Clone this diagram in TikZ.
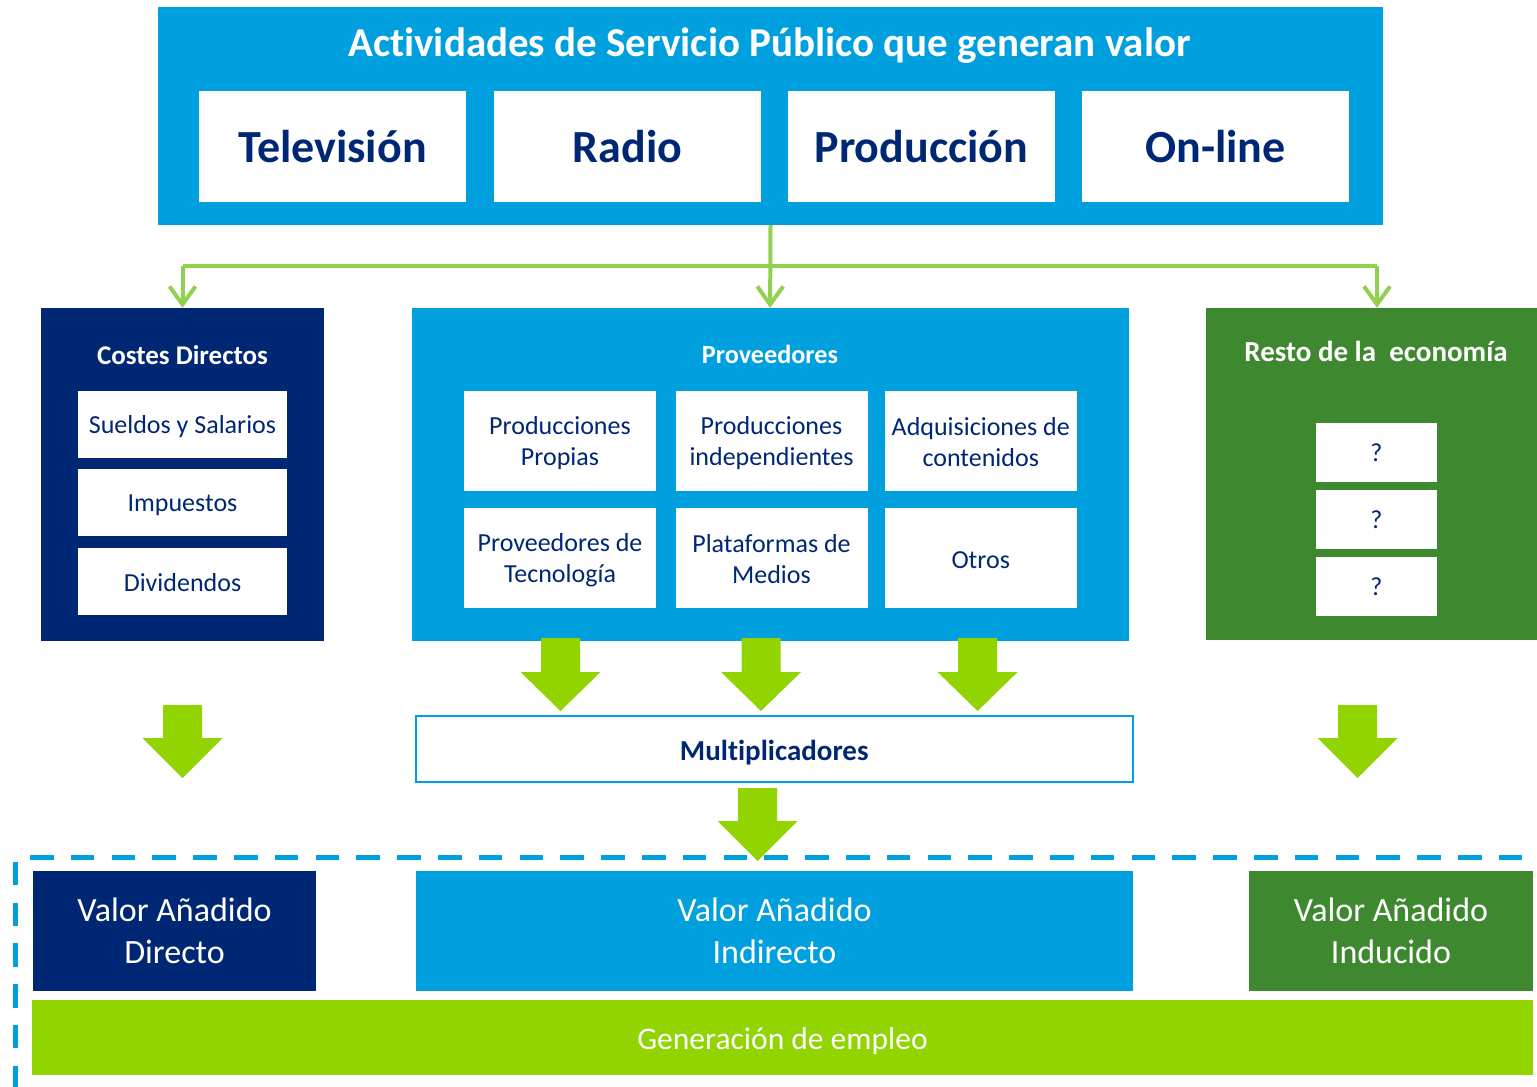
\documentclass[tikz,border=0pt]{standalone}
\usepackage{fontspec}
\setmainfont[Ligatures=NoCommon]{Carlito}
\usetikzlibrary{arrows.meta}
\definecolor{cblue}{RGB}{0,160,223}
\definecolor{cnavy}{RGB}{0,39,116}
\definecolor{cgreen}{RGB}{62,137,48}
\definecolor{clime}{RGB}{146,212,0}
\definecolor{clinegreen}{RGB}{146,208,80}
\newcommand\fsz[2]{\fontsize{#1pt}{#2pt}\selectfont}
\newcommand\blockarr[4]{%
  \fill[clime] (#1-19.5,#2) -- (#1+19.5,#2) -- (#1+19.5,#3) -- (#1+40,#3)
    -- (#1,#4) -- (#1-40,#3) -- (#1-19.5,#3) -- cycle;}
% name, x1, y1, x2, y2, box style, text style, text, text shift
\newcommand\mybox[9]{%
  \node[inner sep=0pt, #6, minimum width={#4pt-#2pt}, minimum height={#5pt-#3pt}]
    (#1) at ({(#2+#4)/2},{(#3+#5)/2}) {};
  \node[inner sep=0pt, align=center, #7] (#1-t) at ([yshift=#9]#1.center) {#8};}
\begin{document}
\begin{tikzpicture}[x=1pt,y=-1pt,
  wbox/.style={fill=white},
  toptxt/.style={text=cnavy, font=\fsz{46}{55}\bfseries},
  midtxt/.style={text=cnavy, font=\fsz{26}{31}},
  headtxt/.style={anchor=base, text=white},
  bottxt/.style={text=white, font=\fsz{34}{41.5}},
  gline/.style={draw=clinegreen, line width=4pt,
    -{Straight Barb[length=18pt,width=26pt]}},
  dashline/.style={draw=cblue, line width=4.7pt, dash pattern=on 23.5pt off 17.3pt}]
\useasboundingbox (0,0) rectangle (1537,1087);

% ---- top panel
\mybox{top}{158}{7}{1383}{225}{fill=cblue}{}{}{0pt}
\node[headtxt, font=\fsz{41}{49}\bfseries] (title) at (769.5,56)
  {Actividades de Servicio Público que generan valor};
\mybox{tv}{199}{91}{466}{202}{wbox}{toptxt}{Televisión}{0pt}
\mybox{radio}{494}{91}{761}{202}{wbox}{toptxt}{Radio}{0pt}
\mybox{prod}{788}{91}{1055}{202}{wbox}{toptxt}{Producción}{0pt}
\mybox{online}{1082}{91}{1349}{202}{wbox}{toptxt}{On-line}{0pt}

% ---- Costes Directos
\mybox{costes}{41}{308}{324}{641}{fill=cnavy}{}{}{0pt}
\node[headtxt, font=\fsz{27}{33}\bfseries] (costest) at (182.5,364) {Costes Directos};
\mybox{sueldos}{78}{391}{287}{458}{wbox}{midtxt}{Sueldos y Salarios}{-2.5pt}
\mybox{impuestos}{78}{469}{287}{536}{wbox}{midtxt}{Impuestos}{-3pt}
\mybox{dividendos}{78}{548}{287}{615}{wbox}{midtxt}{Dividendos}{-1.5pt}

% ---- Proveedores
\mybox{prov}{411.5}{308}{1128.7}{641}{fill=cblue}{}{}{0pt}
\node[headtxt, font=\fsz{26.2}{31}\bfseries] (provt) at (770,363) {Proveedores};
\mybox{p1}{464}{391}{656}{491}{wbox}{midtxt}{Producciones\\Propias}{-2.5pt}
\mybox{p2}{675.5}{391}{867.5}{491}{wbox}{midtxt}{Producciones\\independientes}{-2.5pt}
\mybox{p3}{885}{391}{1076.5}{491}{wbox}{midtxt}{Adquisiciones de\\contenidos}{-1.5pt}
\mybox{p4}{464}{508}{656}{608}{wbox}{midtxt}{Proveedores de\\Tecnología}{-2pt}
\mybox{p5}{675.5}{508}{867.5}{608}{wbox}{midtxt}{Plataformas de\\Medios}{-1.5pt}
\mybox{p6}{885}{508}{1076.5}{608}{wbox}{midtxt}{Otros}{-2pt}

% ---- Resto de la economia
\mybox{resto}{1205.7}{308}{1537}{640}{fill=cgreen}{}{}{0pt}
\node[headtxt, font=\fsz{29}{35}\bfseries] (restot) at (1376,361.5) {Resto de la \ economía};
\mybox{q1}{1316}{423}{1437}{482}{wbox}{midtxt}{?}{0pt}
\mybox{q2}{1316}{490}{1437}{549}{wbox}{midtxt}{?}{0pt}
\mybox{q3}{1316}{557}{1437}{616}{wbox}{midtxt}{?}{0pt}

% ---- green connectors
\coordinate (jl) at (182.5,266);
\coordinate (jr) at (1377,266);
\draw[gline] (top.south) -- (prov.north);
\draw[draw=clinegreen, line width=4pt] (jl) -- (jr);
\draw[gline] (jl) -- (costes.north -| jl);
\draw[gline] (jr) -- (resto.north -| jr);

% ---- Multiplicadores
\mybox{mult}{416}{716}{1132.5}{782.3}{draw=cblue, line width=2pt, fill=white}{text=cnavy, font=\fsz{29}{35}\bfseries}{Multiplicadores}{-3pt}

% ---- block arrows
\blockarr{560.5}{638}{672}{711}
\blockarr{761}{638}{672}{711}
\blockarr{977.6}{638}{672}{711}
\blockarr{182.5}{705}{738}{778}
\blockarr{1357.5}{705}{738}{778}

% ---- dashed frame
\coordinate (dh1) at (30,857.7);
\coordinate (dh2) at (1537,857.7);
\coordinate (dv1) at (15.7,861.7);
\coordinate (dv2) at (15.7,1087);
\draw[dashline] (dh1) -- (dh2);
\draw[dashline] (dv1) -- (dv2);

\blockarr{757.7}{788}{821}{861}

% ---- bottom boxes
\mybox{vad}{33}{871}{316}{991}{fill=cnavy}{bottxt}{Valor Añadido\\Directo}{0pt}
\mybox{vai}{416}{871}{1133}{991}{fill=cblue}{bottxt}{Valor Añadido\\Indirecto}{0pt}
\mybox{vaind}{1249}{871}{1533}{991}{fill=cgreen}{bottxt}{Valor Añadido\\Inducido}{0pt}
\mybox{empleo}{32}{1000}{1533}{1075}{fill=clime}{text=white, font=\fsz{31.5}{38}}{Generación de empleo}{-3.5pt}
\end{tikzpicture}
\end{document}
